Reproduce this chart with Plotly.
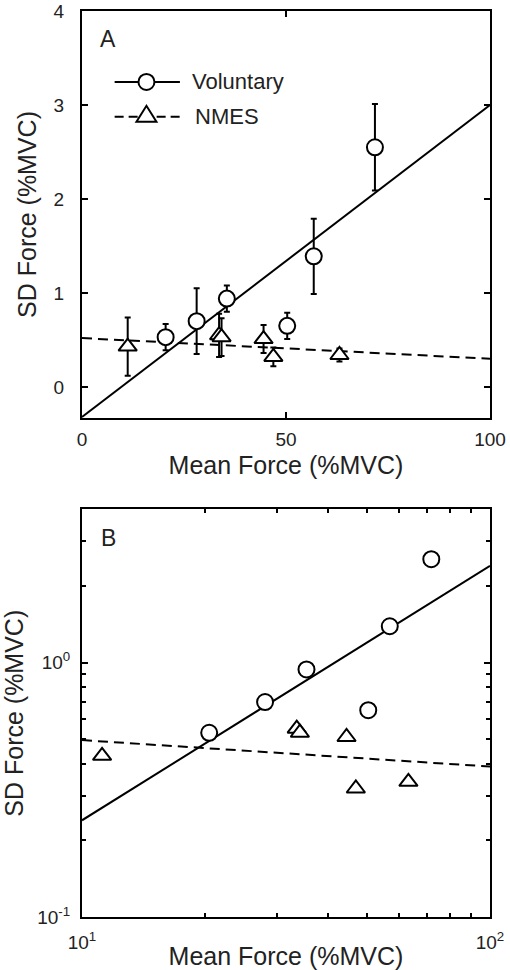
import numpy as np
import plotly.graph_objects as go

# Mean force (%MVC), SD force (%MVC) and between-subject SD for each condition
vol_mean = [20.5, 28.1, 35.5, 50.3, 56.8, 71.8]
vol_sd = [0.53, 0.70, 0.94, 0.65, 1.39, 2.55]
vol_err = [0.14, 0.35, 0.14, 0.14, 0.40, 0.46]

nmes_mean = [11.2, 33.6, 34.2, 44.5, 46.9, 63.1]
nmes_sd = [0.43, 0.55, 0.53, 0.51, 0.32, 0.34]
nmes_err = [0.31, 0.23, 0.20, 0.15, 0.10, 0.07]

# Regression fits: linear (intercept, slope) and power law (a, b) for y = a * x**b
lin_vol = (-0.32, 0.0332)
lin_nmes = (0.52, -0.0022)
pow_vol = (0.024, 1.0)
pow_nmes = (0.63, -0.104)

x_ticks_a = [0, 50, 100]
y_ticks_a = [0, 1, 2, 3, 4]
x_ticks_b = [10, 100]
x_text_b = ["10<sup>1</sup>", "10<sup>2</sup>"]
y_ticks_b = [0.1, 1]
y_text_b = ["10<sup>-1</sup>", "10<sup>0</sup>"]
x_minor_b = [20, 30, 40, 50, 60, 70, 80, 90]
y_minor_b = [0.2, 0.3, 0.4, 0.5, 0.6, 0.7, 0.8, 0.9, 2, 3]

FONT = "Liberation Sans, Arial, sans-serif"
INK = "black"

fig = go.Figure()

# ---- Panel A: linear axes ----
xa = np.array([0.0, 100.0])
fig.add_trace(go.Scatter(x=xa, y=lin_vol[0] + lin_vol[1] * xa, mode="lines",
                         line=dict(color=INK, width=2), xaxis="x", yaxis="y",
                         showlegend=False, hoverinfo="skip"))
fig.add_trace(go.Scatter(x=xa, y=lin_nmes[0] + lin_nmes[1] * xa, mode="lines",
                         line=dict(color=INK, width=2, dash="10px,6px"),
                         xaxis="x", yaxis="y", showlegend=False, hoverinfo="skip"))

marker_circle = dict(symbol="circle", size=16, color="white",
                     line=dict(color=INK, width=2))
marker_tri = dict(symbol="triangle-up", size=16, color="white",
                  line=dict(color=INK, width=2))
err_style = dict(type="data", visible=True, thickness=2, width=3, color=INK)

fig.add_trace(go.Scatter(x=nmes_mean, y=nmes_sd, mode="markers", marker=marker_tri,
                         error_y=dict(array=nmes_err, **err_style),
                         xaxis="x", yaxis="y", showlegend=False))
fig.add_trace(go.Scatter(x=vol_mean, y=vol_sd, mode="markers", marker=marker_circle,
                         error_y=dict(array=vol_err, **err_style),
                         xaxis="x", yaxis="y", showlegend=False))

# ---- Panel B: log-log axes ----
xb = np.array([10.0, 100.0])
fig.add_trace(go.Scatter(x=xb, y=pow_vol[0] * xb ** pow_vol[1], mode="lines",
                         line=dict(color=INK, width=2), xaxis="x2", yaxis="y2",
                         showlegend=False, hoverinfo="skip"))
fig.add_trace(go.Scatter(x=xb, y=pow_nmes[0] * xb ** pow_nmes[1], mode="lines",
                         line=dict(color=INK, width=2, dash="10px,6px"),
                         xaxis="x2", yaxis="y2", showlegend=False, hoverinfo="skip"))
fig.add_trace(go.Scatter(x=nmes_mean, y=nmes_sd, mode="markers", marker=marker_tri,
                         xaxis="x2", yaxis="y2", showlegend=False))
fig.add_trace(go.Scatter(x=vol_mean, y=vol_sd, mode="markers", marker=marker_circle,
                         xaxis="x2", yaxis="y2", showlegend=False))

axis_common = dict(showline=True, linewidth=2, linecolor=INK, mirror="allticks",
                   ticks="inside", ticklen=6, tickwidth=2, tickcolor=INK,
                   showgrid=False, zeroline=False, automargin=False,
                   tickfont=dict(family=FONT, size=19, color="#222"))
title_font = dict(family=FONT, size=25, color="#222")

fig.update_layout(
    width=510, height=970,
    margin=dict(l=82, r=20, t=11, b=53),
    paper_bgcolor="white", plot_bgcolor="white",
    font=dict(family=FONT, color="#222"),
    xaxis=dict(domain=[0, 1], anchor="y", range=[0, 100], tickvals=x_ticks_a,
               ticklabelstandoff=3,
               title=dict(text="Mean Force (%MVC)", font=title_font, standoff=8),
               **axis_common),
    yaxis=dict(domain=[0.5508, 1], anchor="x", range=[-0.33, 4], tickvals=y_ticks_a,
               ticklabelstandoff=12,
               title=dict(text="SD Force (%MVC)", font=title_font, standoff=10),
               **axis_common),
    xaxis2=dict(domain=[0, 1], anchor="y2", type="log", range=[1, 2],
                tickvals=x_ticks_b, ticktext=x_text_b, ticklabelstandoff=7,
                minor=dict(tickvals=x_minor_b, ticks="inside", ticklen=4,
                           tickwidth=2, tickcolor=INK),
                title=dict(text="Mean Force (%MVC)", font=title_font, standoff=5),
                **axis_common),
    yaxis2=dict(domain=[0, 0.4498], anchor="x2", type="log",
                range=[-1, np.log10(4)], tickvals=y_ticks_b, ticktext=y_text_b,
                ticklabelstandoff=6,
                minor=dict(tickvals=y_minor_b, ticks="inside", ticklen=4,
                           tickwidth=2, tickcolor=INK),
                title=dict(text="SD Force (%MVC)", font=title_font, standoff=12),
                **axis_common),
)

# Panel letters
for letter, xr, yr in [("A", "x domain", "y domain"), ("B", "x2 domain", "y2 domain")]:
    fig.add_annotation(text=letter, x=0.064, y=0.93, xref=xr, yref=yr,
                       showarrow=False, xanchor="center", yanchor="middle",
                       font=dict(family=FONT, size=23, color="#222"))

# Legend key drawn inside panel A
leg_x0, leg_x1, leg_xm = 8.0, 24.0, 15.8
leg_y_vol, leg_y_nmes = 3.245, 2.874
fig.add_shape(type="line", xref="x", yref="y", x0=leg_x0, x1=leg_x1,
              y0=leg_y_vol, y1=leg_y_vol, line=dict(color=INK, width=2))
fig.add_shape(type="circle", xref="x", yref="y", xsizemode="pixel", ysizemode="pixel",
              xanchor=leg_xm, yanchor=leg_y_vol, x0=-8, x1=8, y0=-8, y1=8,
              fillcolor="white", line=dict(color=INK, width=2))
fig.add_shape(type="line", xref="x", yref="y", x0=leg_x0, x1=leg_x1,
              y0=leg_y_nmes, y1=leg_y_nmes,
              line=dict(color=INK, width=2, dash="9px,5px"))
fig.add_shape(type="path", xref="x", yref="y", xsizemode="pixel", ysizemode="pixel",
              xanchor=leg_xm, yanchor=leg_y_nmes,
              path="M-10,-5 L10,-5 L0,11 Z",
              fillcolor="white", line=dict(color=INK, width=2))
fig.add_annotation(text="Voluntary", x=26.5, y=leg_y_vol, xref="x", yref="y",
                   showarrow=False, xanchor="left", yanchor="middle",
                   font=dict(family=FONT, size=22, color="#222"))
fig.add_annotation(text="NMES", x=27.1, y=leg_y_nmes, xref="x", yref="y",
                   showarrow=False, xanchor="left", yanchor="middle",
                   font=dict(family=FONT, size=22, color="#222"))

fig.write_html("out.html")
